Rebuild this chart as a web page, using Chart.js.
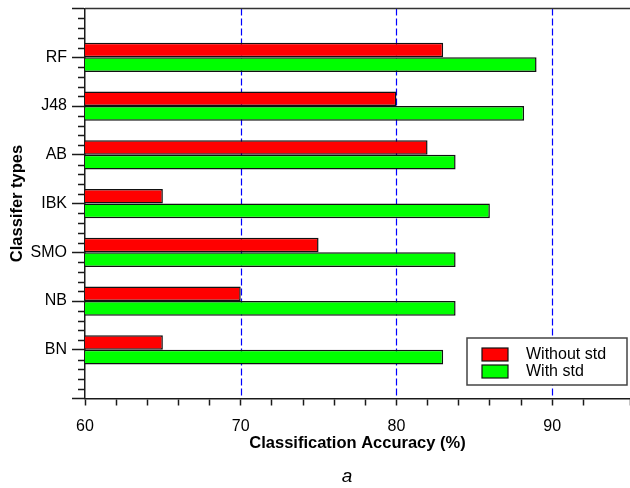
<!DOCTYPE html>
<html>
<head>
<meta charset="utf-8">
<script src="https://cdn.jsdelivr.net/npm/chart.js@4.4.0/dist/chart.umd.min.js"></script>
<style>
  html, body { margin: 0; padding: 0; background: #ffffff; }
  canvas { display: block; }
</style>
</head>
<body>
<canvas id="chart" width="630" height="488"></canvas>
<script>
// Classifier accuracy, with and without standardisation
const categories = ['RF', 'J48', 'AB', 'IBK', 'SMO', 'NB', 'BN'];
const withoutStd = [83, 80, 82, 65, 75, 70, 65];
const withStd = [89, 88.2, 83.8, 86, 83.8, 83.8, 83];
const seriesNames = ['Without std', 'With std'];
const xTickLabels = [60, 70, 80, 90];
const gridValues = [70, 80, 90];
const panelLabel = 'a';

// one empty slot above the first and below the last classifier
const yLabels = ['', ...categories, ''];
const padded = arr => [null, ...arr, null];

const FONT = "'Liberation Sans', Arial, Helvetica, sans-serif";
const AXIS = '#1a1a1a';
Chart.defaults.font.family = FONT;
Chart.defaults.color = '#000000';

// blue dashed reference lines, then the top frame line
const frameAndGrid = {
  id: 'frameAndGrid',
  beforeDatasetsDraw(chart) {
    const { ctx, chartArea: a } = chart;
    const x = chart.scales.x;
    gridValues.forEach(v => {
      const px = Math.round(x.getPixelForValue(v)) + 0.5;
      ctx.save();
      ctx.strokeStyle = 'rgb(0, 0, 255)';
      ctx.globalAlpha = 1;
      ctx.lineWidth = 1.2;
      ctx.setLineDash([7, 3]);
      ctx.beginPath();
      ctx.moveTo(px, a.top);
      ctx.lineTo(px, a.bottom);
      ctx.stroke();
      ctx.restore();
    });
  },
  afterDraw(chart) {
    const { ctx, chartArea: a } = chart;
    ctx.save();
    ctx.strokeStyle = '#333333';
    ctx.lineWidth = 1.5;
    ctx.beginPath();
    ctx.moveTo(a.left, a.top);
    ctx.lineTo(a.right + 2, a.top);
    ctx.stroke();
    ctx.restore();
  }
};

// short minor ticks between the classifier ticks on the y axis
const minorTicks = {
  id: 'minorTicks',
  afterDraw(chart) {
    const { ctx } = chart;
    const y = chart.scales.y;
    const x0 = chart.chartArea.left;
    ctx.save();
    ctx.strokeStyle = AXIS;
    ctx.lineWidth = 1.5;
    ctx.beginPath();
    for (let i = 0; i < yLabels.length - 1; i++) {
      for (let k = 1; k < 5; k++) {
        const py = Math.round(y.getPixelForValue(i + k / 5)) + 0.5;
        ctx.moveTo(x0, py);
        ctx.lineTo(x0 - 7, py);
      }
    }
    ctx.stroke();
    ctx.restore();
  }
};

// boxed legend in the lower right of the plot
const boxedLegend = {
  id: 'boxedLegend',
  afterDraw(chart) {
    const { ctx, chartArea: a } = chart;
    const w = 160, h = 47;
    const bx = a.right - 163, by = a.bottom - 60.5;
    ctx.save();
    ctx.fillStyle = '#ffffff';
    ctx.fillRect(bx, by, w, h);
    ctx.strokeStyle = '#444444';
    ctx.lineWidth = 1.5;
    ctx.strokeRect(bx, by, w, h);
    chart.data.datasets.forEach((ds, i) => {
      const sy = by + 10 + i * 17;
      ctx.fillStyle = ds.backgroundColor;
      ctx.fillRect(bx + 15, sy, 26, 13);
      ctx.strokeStyle = '#111111';
      ctx.lineWidth = 1.2;
      ctx.strokeRect(bx + 15, sy, 26, 13);
      ctx.fillStyle = '#000000';
      ctx.font = '16px ' + FONT;
      ctx.textAlign = 'left';
      ctx.textBaseline = 'middle';
      ctx.fillText(ds.label, bx + 59, sy + 7);
    });
    ctx.restore();
  }
};

// panel letter under the axis title
const panelLetter = {
  id: 'panelLetter',
  afterDraw(chart) {
    const { ctx } = chart;
    ctx.save();
    ctx.fillStyle = '#000000';
    ctx.font = 'italic 19px ' + FONT;
    ctx.textAlign = 'center';
    ctx.textBaseline = 'middle';
    ctx.fillText(panelLabel, 347, 477);
    ctx.restore();
  }
};

new Chart(document.getElementById('chart'), {
  type: 'bar',
  data: {
    labels: yLabels,
    datasets: [
      {
        label: seriesNames[0],
        data: padded(withoutStd),
        backgroundColor: '#ff0000',
        borderColor: '#111111',
        borderWidth: 1.5,
        borderSkipped: false
      },
      {
        label: seriesNames[1],
        data: padded(withStd),
        backgroundColor: '#00ff00',
        borderColor: '#111111',
        borderWidth: 1.5,
        borderSkipped: false
      }
    ]
  },
  options: {
    indexAxis: 'y',
    responsive: false,
    devicePixelRatio: 1,
    animation: false,
    layout: { padding: { top: 8.5, right: 0, bottom: 0, left: 0 } },
    datasets: { bar: { barPercentage: 1.0, categoryPercentage: 0.6 } },
    plugins: {
      legend: { display: false },
      tooltip: { enabled: false }
    },
    scales: {
      x: {
        type: 'linear',
        min: 60,
        max: 95,
        afterFit(scale) {
          scale.height = 89.5;
          scale.paddingLeft = 0;
          scale.paddingRight = 0;
        },
        ticks: {
          stepSize: 2,
          padding: 11,
          maxRotation: 0,
          autoSkip: false,
          font: { size: 16 },
          color: '#000000',
          callback: v => (xTickLabels.includes(v) ? String(v) : '')
        },
        grid: {
          drawOnChartArea: false,
          tickColor: AXIS,
          tickLength: 7,
          tickWidth: 1.5
        },
        border: { display: true, color: AXIS, width: 1.5 },
        title: {
          display: true,
          text: 'Classification Accuracy (%)',
          font: { size: 16.5, weight: 'bold' },
          color: '#000000',
          padding: { top: 0, bottom: 35 }
        }
      },
      y: {
        type: 'category',
        offset: false,
        afterFit(scale) {
          scale.width = 85;
          scale.paddingTop = 0;
          scale.paddingBottom = 0;
        },
        ticks: {
          padding: 5,
          autoSkip: false,
          font: { size: 16 },
          color: '#000000'
        },
        grid: {
          offset: false,
          drawOnChartArea: false,
          tickColor: AXIS,
          tickLength: 13,
          tickWidth: 1.5
        },
        border: { display: true, color: AXIS, width: 1.5 },
        title: {
          display: true,
          text: 'Classifer types',
          font: { size: 16.5, weight: 'bold' },
          color: '#000000',
          padding: { top: 8, bottom: 0 }
        }
      }
    }
  },
  plugins: [frameAndGrid, minorTicks, boxedLegend, panelLetter]
});
</script>
</body>
</html>
